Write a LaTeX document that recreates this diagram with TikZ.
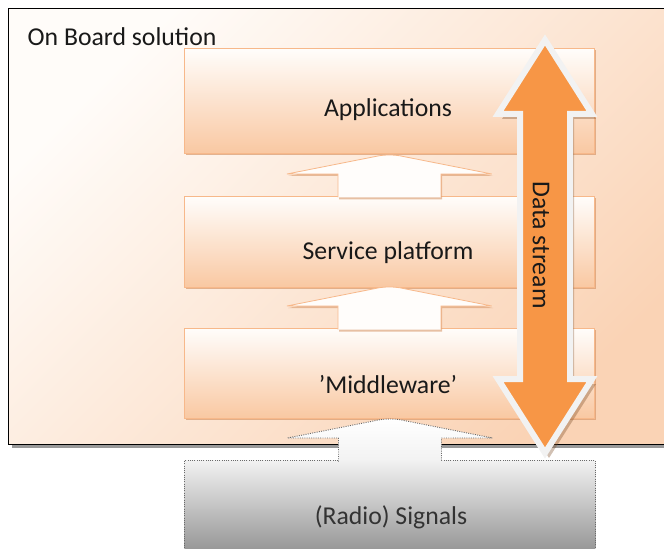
\documentclass[tikz,border=0pt]{standalone}
\usepackage{fontspec}
\setmainfont{Carlito}
\usetikzlibrary{calc,positioning,shadows}
\usepackage{xcolor}
\definecolor{boardtl}{HTML}{FFFCF9}
\definecolor{boardbr}{HTML}{FAD3B5}
\definecolor{boxtop}{HTML}{FFFDFB}
\definecolor{boxbottom}{HTML}{F9C8A2}
\definecolor{boxline}{HTML}{F7B88A}
\definecolor{boxshadow}{HTML}{D8986A}
\definecolor{streamfill}{HTML}{F79646}
\definecolor{streamline}{HTML}{F2F2F2}
\definecolor{streamshadow}{HTML}{7A4A24}
\definecolor{sigtop}{HTML}{F2F2F2}
\definecolor{sigbottom}{HTML}{8C8C8C}
\definecolor{sigline}{HTML}{6A6A6A}
\newcommand{\calloutarrow}[2]{
  \path[#2] ($(#1.north)+(-51.5,1.5)$) -- ++(0,-23.5) -- ++(-51,0)
    -- ($(#1.north)+(-14,-39.5)$) .. controls ($(#1.north)+(-6,-41.5)$) and ($(#1.north)+(6,-41.5)$) .. ($(#1.north)+(14,-39.5)$)
    -- ($(#1.north)+(102.5,-22)$) -- ++(-51,0) -- ++(0,23.5);
}

\begin{document}
\begin{tikzpicture}[x=0.75pt, y=-0.75pt,
  boardnode/.style={
    rectangle,
    draw=black,
    line width=1.1pt,
    left color=boardtl,
    right color=boardbr,
    shading angle=45,
    general shadow={fill=black!40, shadow xshift=2.5pt, shadow yshift=-2.5pt},
    minimum width=504pt,
    minimum height=327pt
  },
  layerbox/.style={
    rectangle,
    draw=boxline,
    line width=0.6pt,
    top color=boxtop,
    bottom color=boxbottom,
    general shadow={fill=boxshadow, opacity=.7, shadow xshift=1.3pt, shadow yshift=-1.5pt},
    minimum width=307.5pt
  },
  signalbox/.style={
    rectangle,
    draw=sigline,
    densely dotted,
    line width=0.7pt,
    top color=sigtop,
    bottom color=sigbottom,
    minimum width=308.25pt,
    minimum height=75pt
  },
  layertext/.style={
    font=\fontsize{19.3}{23}\selectfont,
    text=black!90
  },
  callout/.style={
    fill=boxtop,
    draw=boxline,
    line width=0.6pt,
    general shadow={fill=boxshadow, opacity=.6, shadow xshift=1pt, shadow yshift=-1.5pt}
  },
  sigcallout/.style={
    top color=white,
    bottom color=sigtop,
    draw=sigline,
    densely dotted,
    line width=0.7pt
  },
  streamarrow/.style={
    fill=streamfill,
    draw=streamline,
    line width=4.5pt,
    line join=miter
  }
  ]
  \useasboundingbox (0,0) rectangle (664,549);
  \clip (0,0) rectangle (664,549);

  % on board frame
  \node[anchor=north west, boardnode] (board) at (8,8) {};
  \node[anchor=west, layertext] (board-title) at (23,37) {On Board solution};

  % layers
  \node[anchor=north west, layerbox, minimum height=78.75pt] (app) at (184,48) {};
  \node[anchor=north west, layerbox, minimum height=68.25pt] (serv) at (184,196) {};
  \node[anchor=north west, layerbox, minimum height=67.5pt] (mid) at (184,328) {};

  \calloutarrow{serv}{callout}
  \calloutarrow{mid}{callout}

  \node[layertext] (app-text) at (388,110) {Applications};
  \node[layertext] (serv-text) at (388,253) {Service platform};
  \node[layertext] (mid-text) at (388,385) {’Middleware’};

  % signals
  \node[anchor=north west, signalbox] (radio) at (184,460) {};
  \calloutarrow{radio}{sigcallout}
  \node[layertext, text=black!80] (radio-text) at (391,517) {(Radio) Signals};

  % data stream
  \fill[streamshadow, opacity=.35] (549,45) -- (596,119) -- (574,119) -- (574,384) -- (596,384)
    -- (549,458) -- (502,384) -- (524,384) -- (524,119) -- (502,119) -- cycle;
  \draw[streamarrow] (545,40) -- (592,114) -- (570,114) -- (570,379) -- (592,379)
    -- (545,453) -- (498,379) -- (520,379) -- (520,114) -- (498,114) -- cycle;
  \node[layertext, rotate=-90] (stream-text) at (541,245) {Data stream};

\end{tikzpicture}
\end{document}
